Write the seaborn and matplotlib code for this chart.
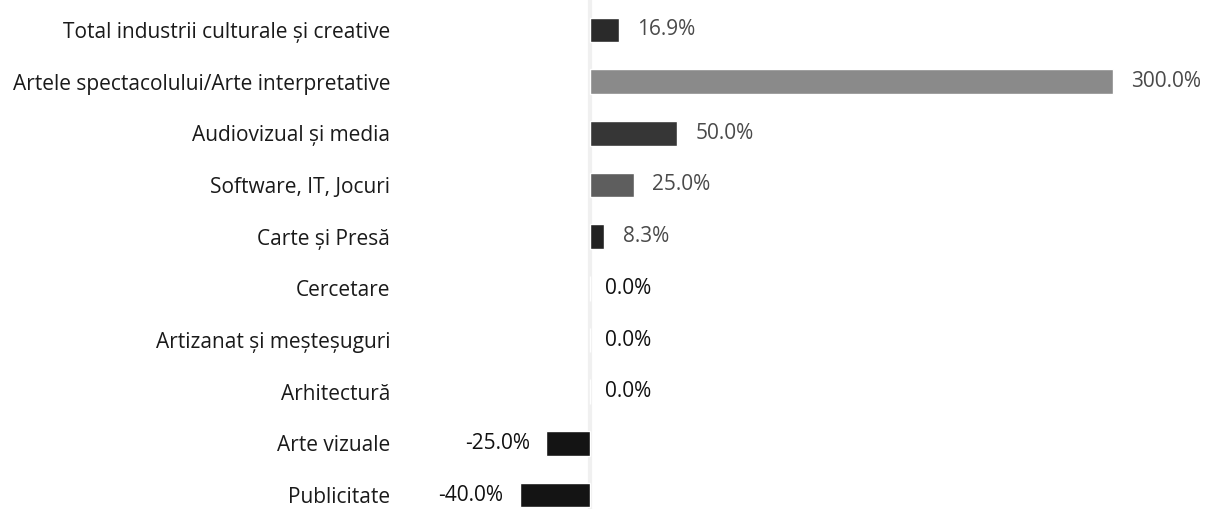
import matplotlib
matplotlib.use("Agg")
import matplotlib.pyplot as plt
import seaborn as sns
import pandas as pd

categories = [
    "Total industrii culturale și creative",
    "Artele spectacolului/Arte interpretative",
    "Audiovizual și media",
    "Software, IT, Jocuri",
    "Carte și Presă",
    "Cercetare",
    "Artizanat și meșteșuguri",
    "Arhitectură",
    "Arte vizuale",
    "Publicitate",
]
values = [16.9, 300.0, 50.0, 25.0, 8.3, 0.0, 0.0, 0.0, -25.0, -40.0]
bar_colors = ["#2a2a2a", "#8a8a8a", "#363636", "#5e5e5e", "#222222",
              "#ffffff", "#ffffff", "#ffffff", "#141414", "#141414"]

sns.set_theme(style="white")
plt.rcParams["font.family"] = ["Open Sans", "DejaVu Sans"]

df = pd.DataFrame({"categorie": categories, "valoare": values})

fig = plt.figure(figsize=(12.09, 5.09), dpi=100)
ax = fig.add_axes([400 / 1209, 0.0, 800 / 1209, 1.0])

sns.barplot(data=df, x="valoare", y="categorie", hue="categorie",
            palette=bar_colors, legend=False, width=0.48, ax=ax,
            orient="h", saturation=1)

ax.set_xlim(-109.0, 350.0)
ax.set_ylim(9.27, -0.58)
ax.axvline(0, color="#f0f0f0", lw=3, zorder=0)

for s in ax.spines.values():
    s.set_visible(False)
ax.set_xticks([])
ax.set_xlabel("")
ax.set_ylabel("")
ax.tick_params(axis="y", length=0, pad=7, labelsize=15, labelcolor="#1a1a1a")

for i, v in enumerate(values):
    txt = f"{v:.1f}%"
    if v > 0:
        ax.annotate(txt, (v, i), xytext=(13, 0), textcoords="offset points",
                    va="center", ha="left", fontsize=15, color="#4a4a4a")
    elif v == 0:
        ax.annotate(txt, (v, i), xytext=(11, 0), textcoords="offset points",
                    va="center", ha="left", fontsize=15, color="#111111")
    else:
        ax.annotate(txt, (v, i), xytext=(-12, 0), textcoords="offset points",
                    va="center", ha="right", fontsize=15, color="#111111")

fig.savefig("out.png", dpi=100, facecolor="white")
